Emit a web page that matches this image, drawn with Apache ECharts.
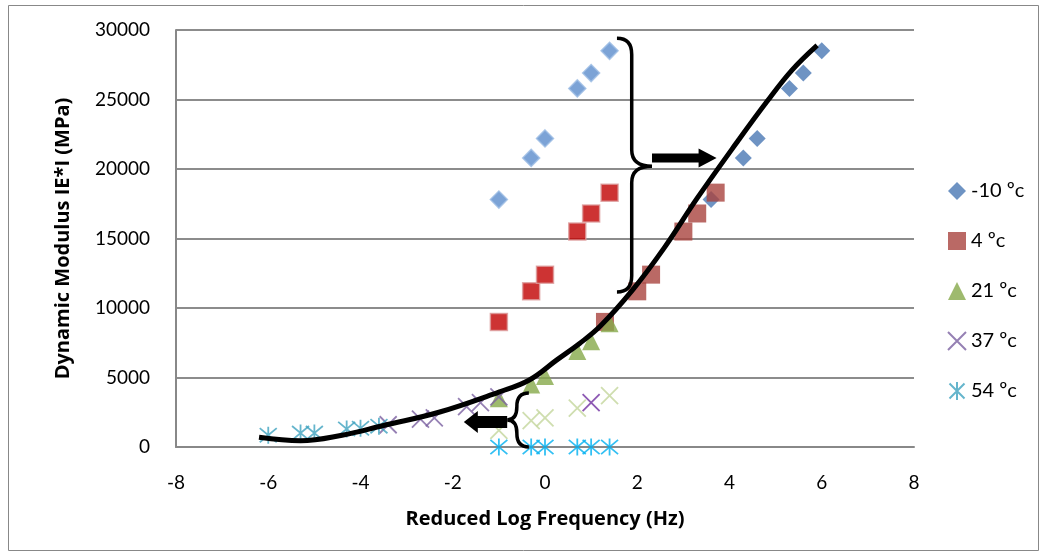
<!DOCTYPE html>
<html>
<head>
    <meta charset="utf-8">
    <title>Dynamic Modulus</title>
    <script type="text/javascript" src="https://cdn.jsdelivr.net/npm/echarts@6/dist/echarts.min.js"></script>
</head>
<body style="margin:0">
    <div id="main" style="width:1045px;height:557px;"></div>
    <script type="text/javascript">
        // reduced log frequency of the test frequencies (0.1, 0.5, 1, 5, 10, 25 Hz)
        var rawX = [-1, -0.3, 0, 0.7, 1, 1.4];

        // measured values, unshifted
        var rawM10 = [17800, 20800, 22200, 25800, 26900, 28500];
        var raw4 = [9000, 11200, 12400, 15500, 16800, 18300];
        var raw37 = [1200, 1900, 2100, 2800, 3200, 3700];
        var raw54 = [0, 0, 0, 0, 0, 0];

        // shifted to master curve
        var shiftXM10 = [3.6, 4.3, 4.6, 5.3, 5.6, 6.0];
        var shiftX4 = [1.3, 2.0, 2.3, 3.0, 3.3, 3.7];
        var y21 = [3500, 4500, 5100, 6900, 7600, 8900];
        var shiftX37 = [-3.4, -2.7, -2.4, -1.7, -1.4, -1.0];
        var shiftY37 = [1600, 2000, 2100, 2900, 3200, 3600];
        var shiftX54 = [-6.0, -5.3, -5.0, -4.3, -4.0, -3.6];
        var shiftY54 = [850, 1000, 1000, 1300, 1350, 1500];

        // master curve (hand drawn)
        var curveX = [-6.2, -5.3, -4.4, -3.5, -2.3, -1.0, -0.35, 0.25, 0.75, 1.2, 1.9, 2.6, 3.3, 4.2, 4.8, 5.35, 5.9];
        var curveY = [700, 450, 850, 1550, 2500, 3950, 4800, 6250, 7450, 8700, 11300, 14400, 17900, 22100, 24800, 27100, 28900];

        // braces: [x outer, x stem, x tip, y top, y tip, y bottom]
        var braces = [
            [1.56, 1.88, 2.32, 29400, 20200, 11150],
            [-0.35, -0.61, -0.82, 3880, 1950, 0]
        ];
        // arrows: [x start, x tip, y]
        var arrows = [
            [2.32, 3.72, 20800],
            [-0.82, -1.76, 1800]
        ];

        var legendNames = ['-10 ºc', '4 ºc', '21 ºc', '37 ºc', '54 ºc'];
        var yTicks = [0, 5000, 10000, 15000, 20000, 25000, 30000];

        var font = 'Lato, "Open Sans", sans-serif';
        var titleFont = '"Open Sans", "Noto Sans", sans-serif';
        var crossPath = 'path://M0,0L10,10M10,0L0,10';
        var starPath = 'path://M0,0L10,10M10,0L0,10M5,-1L5,11';

        function pairs(xs, ys) {
            return xs.map(function (x, i) { return [x, ys[i]]; });
        }

        function bracePath(params, api) {
            var b = braces[params.dataIndex];
            var o = api.coord([b[0], b[3]]);
            var s = api.coord([b[1], b[3]]);
            var t = api.coord([b[2], b[4]]);
            var bot = api.coord([b[0], b[5]]);
            var xo = o[0], xs = s[0], xt = t[0];
            var yT = o[1], yM = t[1], yB = bot[1];
            var r = Math.min(Math.abs(xs - xo) * 1.1, (yM - yT) / 2);
            var d = 'M' + xo + ',' + yT +
                'Q' + xs + ',' + yT + ',' + xs + ',' + (yT + r) +
                'L' + xs + ',' + (yM - r) +
                'Q' + xs + ',' + yM + ',' + xt + ',' + yM +
                'M' + xt + ',' + yM +
                'Q' + xs + ',' + yM + ',' + xs + ',' + (yM + r) +
                'L' + xs + ',' + (yB - r) +
                'Q' + xs + ',' + yB + ',' + xo + ',' + yB;
            return {
                type: 'path',
                shape: { pathData: d },
                style: { fill: null, stroke: '#000', lineWidth: 3.5 }
            };
        }

        function arrowShape(params, api) {
            var a = arrows[params.dataIndex];
            var p0 = api.coord([a[0], a[2]]);
            var p1 = api.coord([a[1], a[2]]);
            var dir = p1[0] > p0[0] ? 1 : -1;
            var big = params.dataIndex === 1;
            var hw = big ? 6 : 4.5;
            var hh = big ? 11 : 9.5;
            var hl = big ? 14 : 18;
            var y = p0[1];
            var hx = p1[0] - dir * hl;
            return {
                type: 'polygon',
                shape: {
                    points: [
                        [p0[0], y - hw], [hx, y - hw], [hx, y - hh], [p1[0], y],
                        [hx, y + hh], [hx, y + hw], [p0[0], y + hw]
                    ]
                },
                style: { fill: '#000' }
            };
        }

        var myChart = echarts.init(document.getElementById('main'));

        var option = {
            backgroundColor: '#fff',
            animation: false,
            textStyle: { fontFamily: font },
            graphic: [{
                type: 'rect',
                shape: { x: 8.5, y: 5.5, width: 1030, height: 545 },
                style: { fill: null, stroke: '#888', lineWidth: 1 },
                silent: true
            }],
            grid: { left: 176, right: 131, top: 30, bottom: 110 },
            legend: {
                data: legendNames,
                orient: 'vertical',
                left: 942,
                top: 176,
                itemWidth: 18,
                itemHeight: 18,
                itemGap: 30,
                textStyle: { fontSize: 20, color: '#000', fontFamily: font }
            },
            xAxis: {
                type: 'value',
                min: -8,
                max: 8,
                interval: 2,
                name: 'Reduced Log Frequency (Hz)',
                nameLocation: 'middle',
                nameGap: 62,
                nameTextStyle: { fontSize: 20, fontWeight: 'bold', color: '#000', fontFamily: titleFont },
                axisLine: { onZero: false, lineStyle: { color: '#888', width: 2 } },
                axisTick: { show: false },
                axisLabel: { fontSize: 19, color: '#000', margin: 26 },
                splitLine: { show: false }
            },
            yAxis: {
                type: 'value',
                min: yTicks[0],
                max: yTicks[yTicks.length - 1],
                interval: 5000,
                name: 'Dynamic Modulus IE*I (MPa)',
                nameLocation: 'middle',
                nameGap: 103,
                nameTextStyle: { fontSize: 20, fontWeight: 'bold', color: '#000', fontFamily: titleFont },
                axisLine: { show: true, onZero: false, lineStyle: { color: '#888', width: 2 } },
                axisTick: { show: false },
                axisLabel: {
                    fontSize: 19, color: '#000', margin: 26,
                    formatter: function (v) { return String(v); }
                },
                splitLine: { lineStyle: { color: '#8c8c8c', width: 2 } }
            },
            series: [
                {
                    name: 'raw -10', type: 'scatter', symbol: 'diamond', symbolSize: 17,
                    data: pairs(rawX, rawM10),
                    itemStyle: { color: '#5b8ccc', borderColor: '#9bbbe3', borderWidth: 1.5 }
                },
                {
                    name: 'raw 4', type: 'scatter', symbol: 'rect', symbolSize: 17,
                    data: pairs(rawX, raw4),
                    itemStyle: { color: '#c00000', borderColor: '#dc9a9a', borderWidth: 1.5 }
                },
                {
                    name: 'raw 37', type: 'scatter', symbol: crossPath, symbolSize: 17,
                    data: pairs(rawX, raw37).map(function (p, i) {
                        return i === 4 ? { value: p, itemStyle: { borderColor: '#7030a0' } } : p;
                    }),
                    itemStyle: { color: 'rgba(0,0,0,0)', borderColor: '#c3d69b', borderWidth: 1.8 }
                },
                {
                    name: 'raw 54', type: 'scatter', symbol: starPath, symbolSize: 17,
                    data: pairs(rawX, raw54),
                    itemStyle: { color: 'rgba(0,0,0,0)', borderColor: '#00b0f0', borderWidth: 1.8 }
                },
                {
                    name: '-10 ºc', type: 'scatter', symbol: 'diamond', symbolSize: 17,
                    data: pairs(shiftXM10, rawM10),
                    itemStyle: { color: '#4a78b4' }
                },
                {
                    name: '4 ºc', type: 'scatter', symbol: 'rect', symbolSize: 18,
                    data: pairs(shiftX4, raw4),
                    itemStyle: { color: '#a9443f' }
                },
                {
                    name: '21 ºc', type: 'scatter', symbol: 'triangle', symbolSize: 18,
                    data: pairs(rawX, y21),
                    itemStyle: { color: '#86a94a' }
                },
                {
                    name: '37 ºc', type: 'scatter', symbol: crossPath, symbolSize: 17,
                    data: pairs(shiftX37, shiftY37),
                    itemStyle: { color: 'rgba(0,0,0,0)', borderColor: '#7a60a0', borderWidth: 1.8 }
                },
                {
                    name: '54 ºc', type: 'scatter', symbol: starPath, symbolSize: 17,
                    data: pairs(shiftX54, shiftY54),
                    itemStyle: { color: 'rgba(0,0,0,0)', borderColor: '#3fa3bf', borderWidth: 1.8 }
                },
                {
                    name: 'master', type: 'line', smooth: 0.4, showSymbol: false, z: 5,
                    data: pairs(curveX, curveY),
                    lineStyle: { color: '#000', width: 5 }
                },
                {
                    name: 'braces', type: 'custom', z: 6,
                    data: braces.map(function (b, i) { return [b[0], b[3], i]; }),
                    renderItem: bracePath
                },
                {
                    name: 'arrows', type: 'custom', z: 6,
                    data: arrows.map(function (a, i) { return [a[0], a[2], i]; }),
                    renderItem: arrowShape
                }
            ]
        };

        myChart.setOption(option);
    </script>
</body>
</html>
